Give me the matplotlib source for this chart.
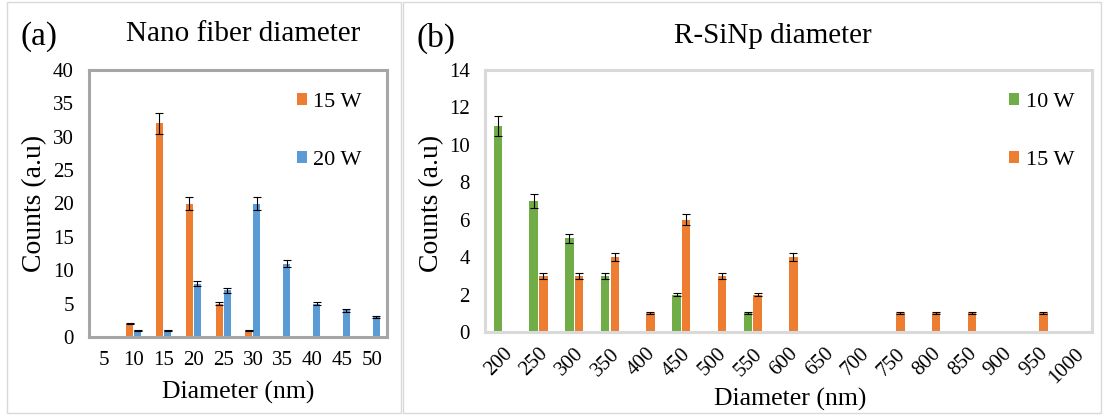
import matplotlib
matplotlib.use("Agg")
import matplotlib.pyplot as plt
import matplotlib.patches as mpatches
import numpy as np

# ---- data: panel (a) nano fiber diameter ----
fiber_sizes = ["5", "10", "15", "20", "25", "30", "35", "40", "45", "50"]
fiber_15w = [0, 2, 32, 20, 5, 1, 0, 0, 0, 0]
fiber_15w_err = [0, 0.1, 1.6, 1.0, 0.25, 0.05, 0, 0, 0, 0]
fiber_20w = [0, 1, 1, 8, 7, 20, 11, 5, 4, 3]
fiber_20w_err = [0, 0.05, 0.05, 0.4, 0.35, 1.0, 0.55, 0.25, 0.2, 0.15]

# ---- data: panel (b) R-SiNp diameter ----
sinp_sizes = ["200", "250", "300", "350", "400", "450", "500", "550", "600",
              "650", "700", "750", "800", "850", "900", "950", "1000"]
sinp_10w = [11, 7, 5, 3, 0, 2, 0, 1, 0, 0, 0, 0, 0, 0, 0, 0, 0]
sinp_10w_err = [0.55, 0.35, 0.25, 0.15, 0, 0.1, 0, 0.05, 0, 0, 0, 0, 0, 0, 0, 0, 0]
sinp_15w = [0, 3, 3, 4, 1, 6, 3, 2, 4, 0, 0, 1, 1, 1, 0, 1, 0]
sinp_15w_err = [0, 0.15, 0.15, 0.2, 0.05, 0.3, 0.15, 0.1, 0.2, 0, 0, 0.05, 0.05, 0.05, 0, 0.05, 0]

colors = {"orange": "#ED7D31", "blue": "#5B9BD5", "green": "#70AD47"}

plt.rcParams["font.family"] = ["Liberation Serif", "DejaVu Serif"]

W, H = 1104, 416
fig = plt.figure(figsize=(W / 100, H / 100), dpi=100)


def px_axes(left, top, right, bottom):
    return fig.add_axes([left / W, 1 - bottom / H, (right - left) / W, (bottom - top) / H])


def ftext(x, y, s, **kw):
    fig.text(x / W, 1 - y / H, s, ha="center", va="center", **kw)


# outer panel frames
fig.patches.append(mpatches.Rectangle((7 / W, 3 / H), 394 / W, 411 / H, transform=fig.transFigure,
                                      fill=False, edgecolor="#D9D9D9", linewidth=1))
fig.patches.append(mpatches.Rectangle((403 / W, 3 / H), 698 / W, 411 / H, transform=fig.transFigure,
                                      fill=False, edgecolor="#D9D9D9", linewidth=1))

bw = 0.24
off = 0.135
err_kw = dict(ecolor="black", elinewidth=0.8, capsize=3, capthick=0.8)
tick_fs = 15

# ----------------- Panel (a) -----------------
ax1 = px_axes(89, 70, 387, 337)
x1 = np.arange(len(fiber_sizes))
ax1.bar(x1 - off, fiber_15w, bw, color=colors["orange"], label="15 W",
        yerr=[0 if v == 0 else e for v, e in zip(fiber_15w, fiber_15w_err)], error_kw=err_kw)
ax1.bar(x1 + off, fiber_20w, bw, color=colors["blue"], label="20 W",
        yerr=fiber_20w_err, error_kw=err_kw)
ax1.set_xlim(-0.5, len(fiber_sizes) - 0.5)
ax1.set_ylim(0, 40)
ax1.set_yticks(range(0, 41, 5))
ax1.set_xticks(x1)
ax1.set_xticklabels(fiber_sizes)
ax1.tick_params(axis="both", length=0, labelsize=tick_fs)
ax1.tick_params(axis="x", pad=10)
ax1.tick_params(axis="y", pad=11)
for s in ax1.spines.values():
    s.set_color("#A6A6A6")
    s.set_linewidth(2.2)
ax1.legend(loc="upper left", bbox_to_anchor=(0.66, 0.955), frameon=False, fontsize=16,
           handlelength=0.45, handleheight=0.45, handletextpad=0.3, labelspacing=1.75, borderpad=0)

ftext(39, 37, "(a)", fontsize=24)
ftext(243, 34, "Nano fiber diameter", fontsize=21)
ftext(238, 392, "Diameter (nm)", fontsize=18.5)
ftext(35, 203, "Counts (a.u)", fontsize=20, rotation=90)

# ----------------- Panel (b) -----------------
ax2 = px_axes(485, 70, 1092, 332)
x2 = np.arange(len(sinp_sizes))
ax2.bar(x2 - off, sinp_10w, bw, color=colors["green"], label="10 W",
        yerr=sinp_10w_err, error_kw=err_kw)
ax2.bar(x2 + off, sinp_15w, bw, color=colors["orange"], label="15 W",
        yerr=sinp_15w_err, error_kw=err_kw)
ax2.set_xlim(-0.5, len(sinp_sizes) - 0.5)
ax2.set_ylim(0, 14)
ax2.set_yticks(range(0, 15, 2))
ax2.set_xticks(x2)
ax2.set_xticklabels(sinp_sizes, rotation=45, ha="right", rotation_mode="anchor")
ax2.tick_params(axis="both", length=0, labelsize=tick_fs)
ax2.tick_params(axis="x", pad=9)
ax2.tick_params(axis="y", pad=11)
for s in ax2.spines.values():
    s.set_color("#D9D9D9")
    s.set_linewidth(2.2)
ax2.legend(loc="upper left", bbox_to_anchor=(0.845, 0.955), frameon=False, fontsize=16,
           handlelength=0.45, handleheight=0.45, handletextpad=0.3, labelspacing=1.75, borderpad=0)

ftext(436, 38, "(b)", fontsize=24)
ftext(773, 36, "R-SiNp diameter", fontsize=21)
ftext(790, 399, "Diameter (nm)", fontsize=18.5)
ftext(432, 203, "Counts (a.u)", fontsize=20, rotation=90)

fig.savefig("out.png", dpi=100)
